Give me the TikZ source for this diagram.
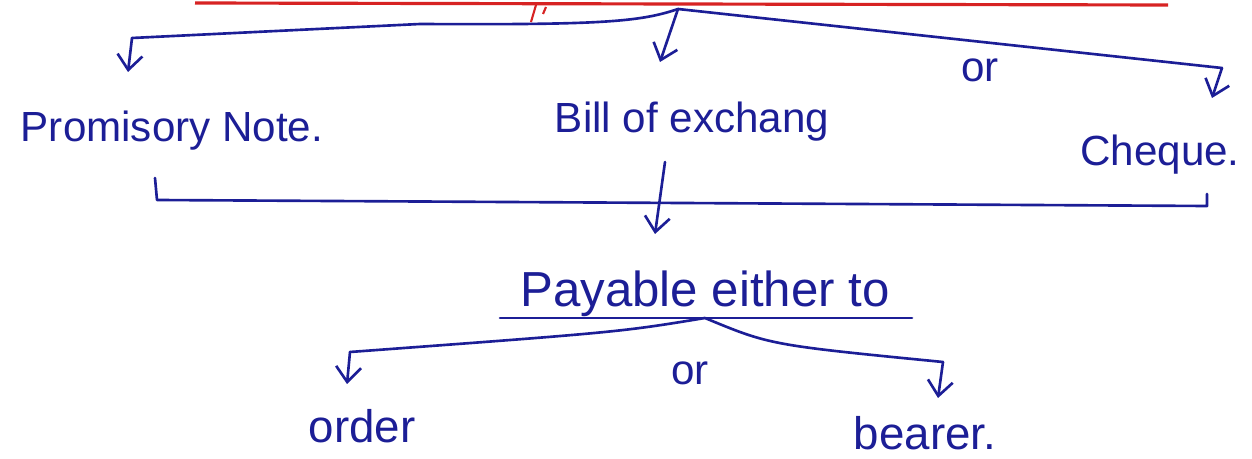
\documentclass[tikz,border=0pt]{standalone}
\usepackage{fontspec}
\setmainfont{Liberation Sans}
\usetikzlibrary{arrows.meta}

\definecolor{ink}{RGB}{28,30,150}
\definecolor{redink}{RGB}{215,35,35}

\tikzset{
  hand/.style={draw=ink, line width=1.5pt, line cap=round, line join=round},
  down/.style={hand, -{Straight Barb[length=3mm,width=5mm]}},
  word/.style={text=ink, font=\fontsize{24}{28}\selectfont, inner sep=0pt, anchor=base},
}

\begin{document}
\begin{tikzpicture}[x=0.02cm,y=-0.02cm]
\useasboundingbox (0,0) rectangle (1252,459);

% red rule at the top
\coordinate (rulel) at (195,3);
\coordinate (ruler) at (1168,5);
\draw[redink, line width=1.8pt] (rulel) -- (ruler);
\draw[redink, line width=1.2pt] (536,5) -- (531,22);
\draw[redink, line width=1.2pt] (546,7) -- (543,14);

% first split
\coordinate (top) at (678,9);
\coordinate (lcorner) at (132,38);
\coordinate (lend) at (128,72);
\coordinate (mend) at (660,62);
\coordinate (rcorner) at (1222,68);
\coordinate (rend) at (1212,98);

\draw[hand] (top) .. controls (640,22) and (600,25) .. (420,24) -- (lcorner);
\draw[down] (lcorner) -- (lend);
\draw[down] (top) -- (mend);
\draw[hand] (top) -- (rcorner);
\draw[down] (rcorner) -- (rend);

\node[word] (or1) at (980,82) {or};
\node[word] (promnote) at (172,142) {Promisory Note.};
\node[word] (bill) at (692,133) {Bill of exchang};
\node[word] (cheque) at (1160,166) {Cheque.};

% bracket joining the three
\coordinate (bl) at (155,178);
\coordinate (blc) at (157,200);
\coordinate (brc) at (1207,206);
\coordinate (br) at (1207,194);
\draw[hand] (bl) -- (blc) -- (brc) -- (br);

\coordinate (mtop) at (665,162);
\coordinate (mbot) at (655,234);
\draw[down] (mtop) -- (mbot);

\node[word, font=\fontsize{28}{32}\selectfont] (payable) at (705,307) {Payable either to};
\coordinate (ul) at (500,318);
\coordinate (ur) at (912,318);
\coordinate (split) at (705,318);
\draw[hand] (ul) -- (ur);

% second split
\coordinate (ocorner) at (350,352);
\coordinate (oend) at (347,384);
\coordinate (bcorner) at (943,362);
\coordinate (bend) at (938,398);

\draw[hand] (split) .. controls (620,332) .. (ocorner);
\draw[down] (ocorner) -- (oend);
\draw[hand] (split) .. controls (770,345) .. (bcorner);
\draw[down] (bcorner) -- (bend);

\node[word] (or2) at (690,385) {or};
\node[word, font=\fontsize{26}{30}\selectfont] (order) at (362,442) {order};
\node[word, font=\fontsize{26}{30}\selectfont] (bearer) at (925,450) {bearer.};
\end{tikzpicture}
\end{document}
